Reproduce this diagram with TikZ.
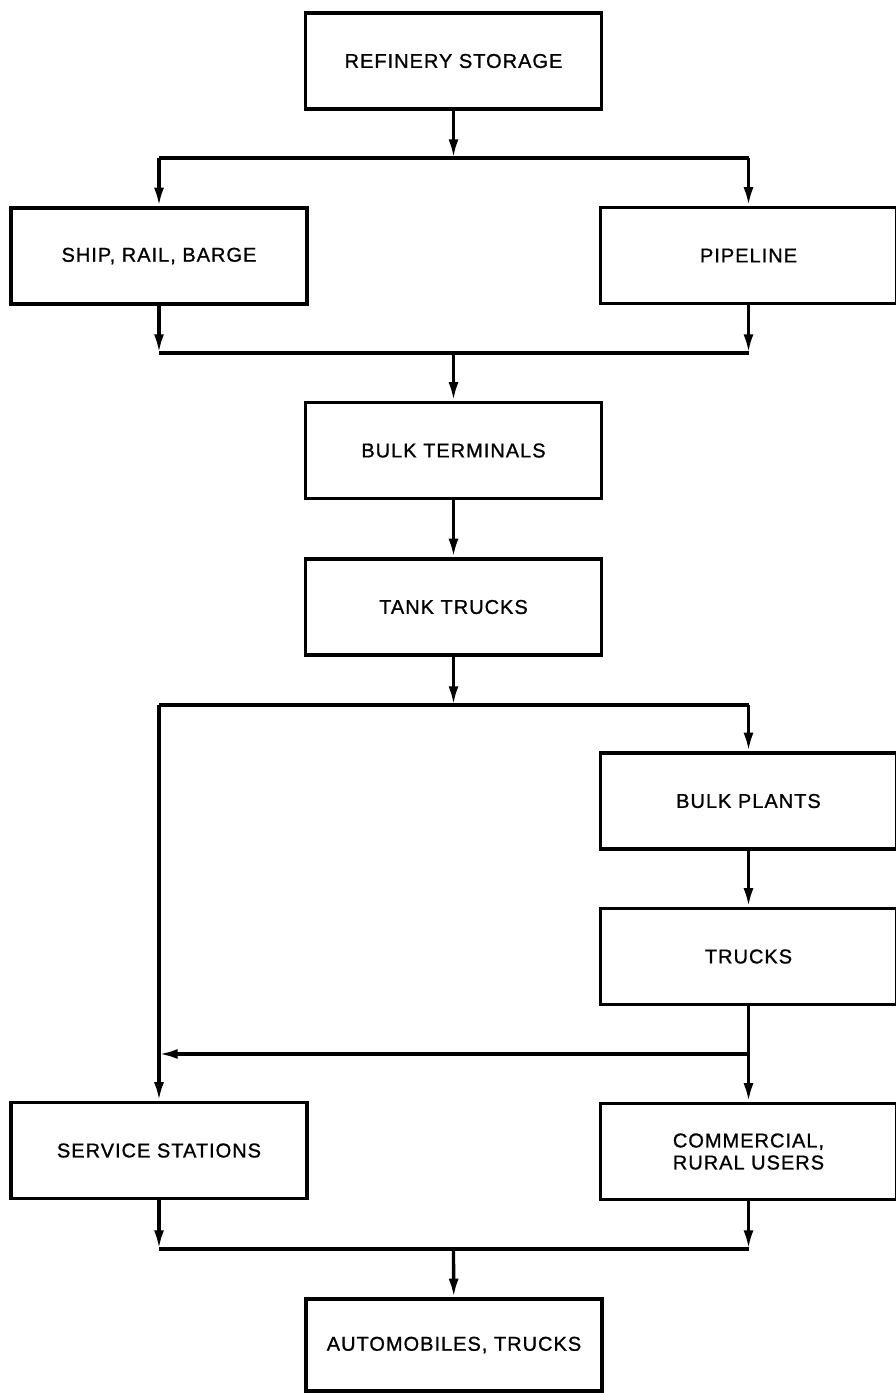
\documentclass[tikz,border=0pt]{standalone}
\usepackage{fontspec}
\setmainfont{Liberation Sans}[LetterSpace=5,FakeBold=1]
\usetikzlibrary{arrows.meta}
\begin{document}
\begin{tikzpicture}[x=0.75pt,y=-0.75pt,
  line width=2.5pt,
  box/.style={draw, rectangle, minimum width=222pt, minimum height=72pt,
    inner sep=0pt, align=center, font=\fontsize{15}{16.5}\selectfont},
  arr/.style={-{Latex[length=14pt,width=7.5pt]}}]
\useasboundingbox (0,0) rectangle (896,1393);
% boxes
\node[box] (rs)   at (453.5,61)    {REFINERY STORAGE};
\node[box] (srb)  at (159,256)     {SHIP, RAIL, BARGE};
\node[box] (pipe) at (748.5,255.5) {PIPELINE};
\node[box] (bt)   at (453.5,450.5) {BULK TERMINALS};
\node[box] (tt)   at (453.5,607)   {TANK TRUCKS};
\node[box] (bp)   at (748.5,801)   {BULK PLANTS};
\node[box] (trk)  at (748.5,956.5) {TRUCKS};
\node[box] (ss)   at (159,1150.5)  {SERVICE STATIONS};
\node[box] (cru)  at (748.5,1151.5) {COMMERCIAL,\\RURAL USERS};
\node[box, minimum height=69pt] (at) at (454,1345) {AUTOMOBILES, TRUCKS};
% junction points
\coordinate (j1) at (453.5,158);
\coordinate (j2) at (453.5,353);
\coordinate (j3) at (453.5,705);
\coordinate (j4) at (748.5,1054);
\coordinate (j5) at (453.5,1249);
% refinery to ship / pipeline
\draw[arr] (rs) -- (j1);
\draw (srb.north |- j1) -- (pipe.north |- j1);
\draw[arr] (srb.north |- j1) -- (srb.north);
\draw[arr] (pipe.north |- j1) -- (pipe.north);
% ship / pipeline to bulk terminals
\draw[arr] (srb.south) -- (srb.south |- j2);
\draw[arr] (pipe.south) -- (pipe.south |- j2);
\draw (srb.south |- j2) -- (pipe.south |- j2);
\draw[arr] (j2) -- (bt);
\draw[arr] (bt) -- (tt);
% tank trucks to stations and bulk plants
\draw[arr] (tt) -- (j3);
\draw (ss.north |- j3) -- (bp.north |- j3);
\draw[arr] (ss.north |- j3) -- (ss.north);
\draw[arr] (bp.north |- j3) -- (bp.north);
\draw[arr] (bp) -- (trk);
\draw[arr] (trk) -- (cru);
\draw[arr] (j4) -- (ss.north |- j4);
% to automobiles
\draw[arr] (ss.south) -- (ss.south |- j5);
\draw[arr] (cru.south) -- (cru.south |- j5);
\draw (ss.south |- j5) -- (cru.south |- j5);
\draw[arr] (j5) -- (at);
\end{tikzpicture}
\end{document}
